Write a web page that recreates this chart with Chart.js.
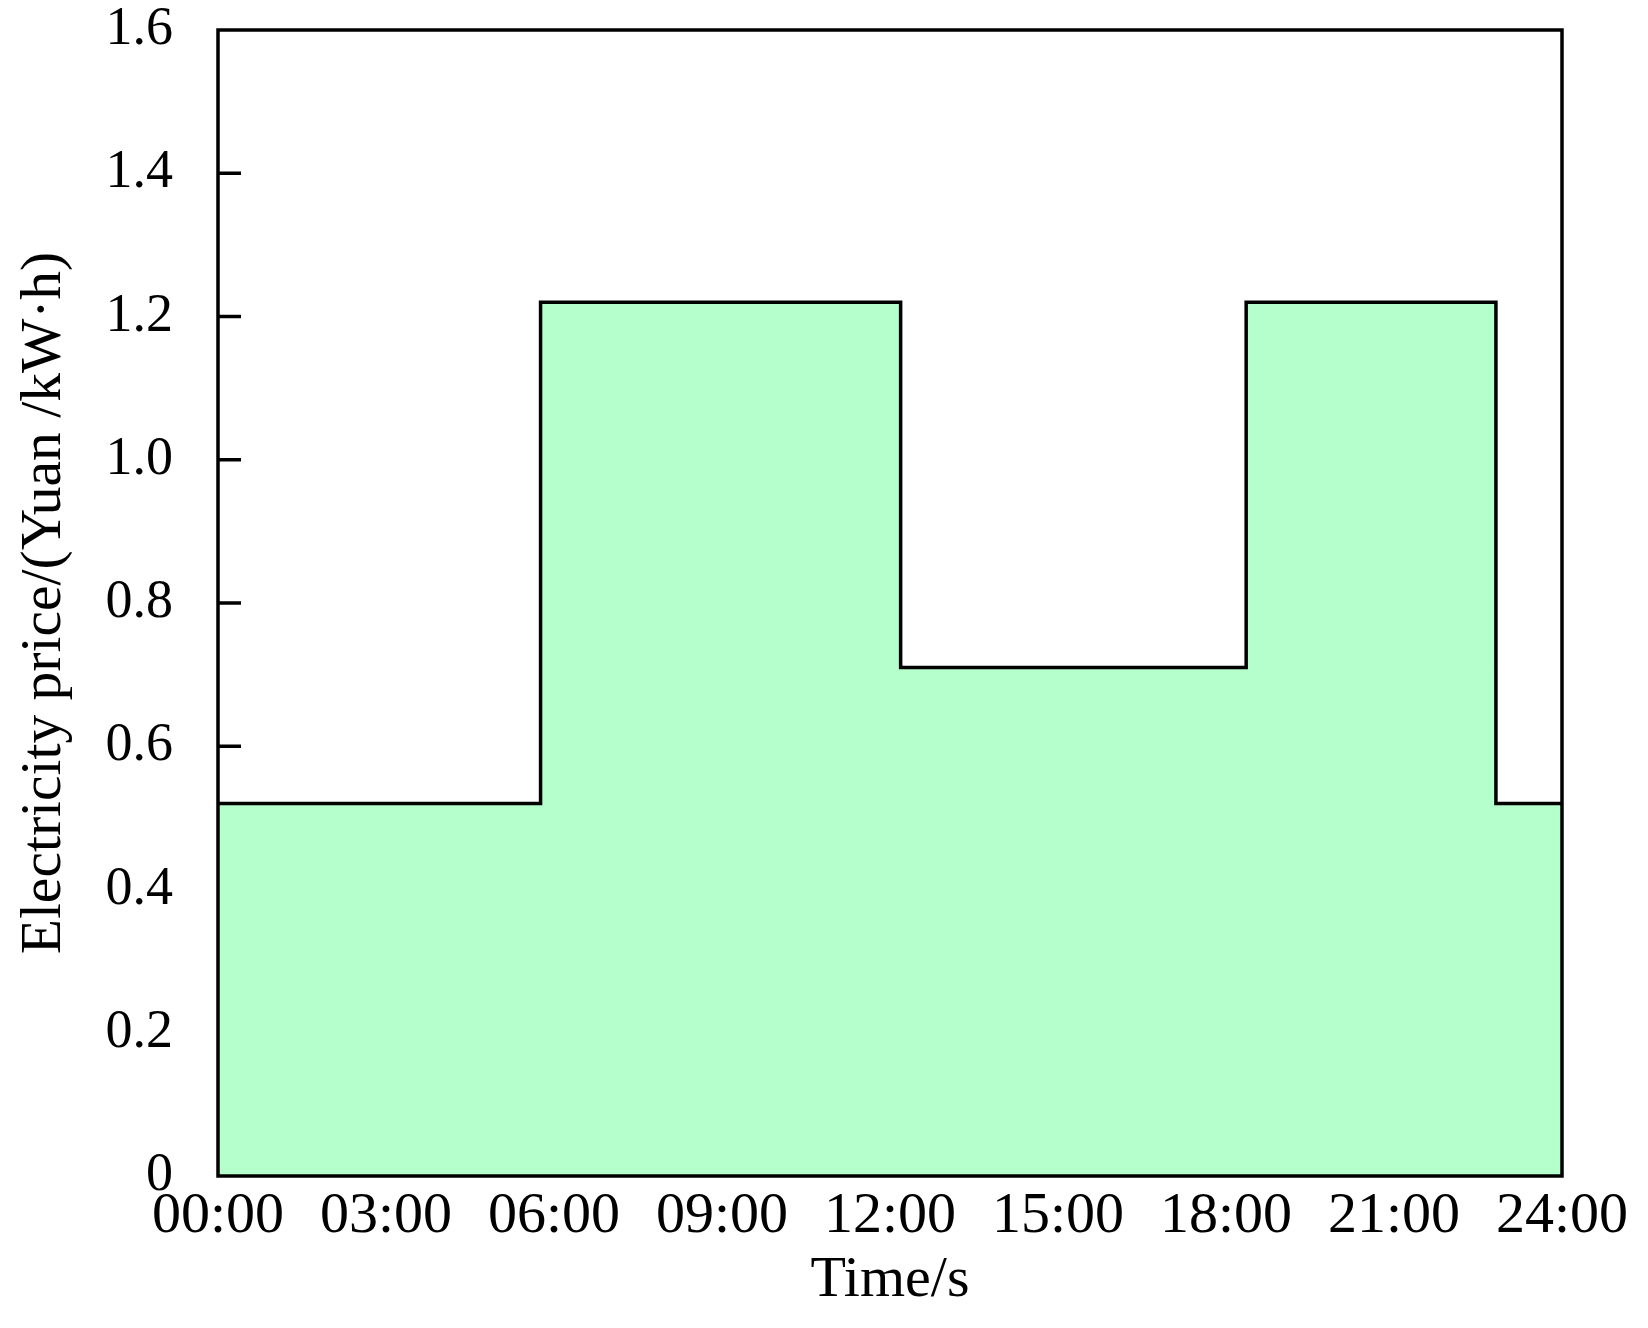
<!DOCTYPE html>
<html>
<head>
<meta charset="utf-8">
<script src="https://cdn.jsdelivr.net/npm/chart.js@4"></script>
<style>
  html, body { margin: 0; padding: 0; background: #fff; }
  #wrap { width: 1648px; height: 1328px; }
</style>
</head>
<body>
<div id="wrap"><canvas id="priceChart" width="1648" height="1328"></canvas></div>
<script>
// step breakpoints (hour of day) and the price that starts there
const hours = [0, 5.76, 12.19, 18.36, 22.82, 24];
const prices = [0.52, 1.22, 0.71, 1.22, 0.52, 0.52];
const xTickLabels = ['00:00', '03:00', '06:00', '09:00', '12:00', '15:00', '18:00', '21:00', '24:00'];
const yTickValues = [0, 0.2, 0.4, 0.6, 0.8, 1.0, 1.2, 1.4, 1.6];
const yTickMarks = [0.6, 0.8, 1.0, 1.2, 1.4];

const serif = "'Liberation Serif', 'Times New Roman', serif";

// frame around the plot + small inward ticks on the left side
const framePlugin = {
    id: 'frame',
    afterDatasetsDraw(chart) {
        const { ctx, chartArea: a, scales } = chart;
        ctx.save();
        ctx.strokeStyle = '#000';
        ctx.lineWidth = 3.5;
        ctx.strokeRect(a.left, a.top, a.right - a.left, a.bottom - a.top);
        yTickMarks.forEach(v => {
            const y = scales.y.getPixelForValue(v);
            ctx.beginPath();
            ctx.moveTo(a.left, y);
            ctx.lineTo(a.left + 23, y);
            ctx.stroke();
        });
        ctx.restore();
    }
};

new Chart(document.getElementById('priceChart'), {
    type: 'line',
    data: {
        datasets: [{
            label: 'price',
            data: hours.map((h, i) => ({ x: h, y: prices[i] })),
            stepped: 'before',
            borderColor: '#000',
            borderWidth: 3.5,
            backgroundColor: '#b4ffcb',
            fill: 'origin',
            pointRadius: 0
        }]
    },
    options: {
        responsive: false,
        animation: false,
        layout: { padding: { left: 10, right: 86, top: 30, bottom: 10 } },
        plugins: {
            legend: { display: false },
            tooltip: { enabled: false }
        },
        scales: {
            x: {
                type: 'linear',
                min: 0,
                max: 24,
                grid: { display: false, drawTicks: false },
                border: { display: false },
                afterBuildTicks: s => { s.ticks = xTickLabels.map((t, i) => ({ value: i * 3 })); },
                afterFit: s => { s.height = 142; s.paddingLeft = 0; s.paddingRight = 0; },
                ticks: {
                    autoSkip: false,
                    maxRotation: 0,
                    padding: 6,
                    color: '#000',
                    font: { family: serif, size: 58 },
                    callback: (v, i) => xTickLabels[i]
                },
                title: {
                    display: true,
                    text: 'Time/s',
                    color: '#000',
                    padding: { top: 0, bottom: 2 },
                    font: { family: serif, size: 58 }
                }
            },
            y: {
                type: 'linear',
                min: 0,
                max: 1.6,
                grid: { display: false, drawTicks: false },
                border: { display: false },
                afterBuildTicks: s => { s.ticks = yTickValues.map(v => ({ value: v })); },
                afterFit: s => { s.width = 208; s.paddingTop = 0; s.paddingBottom = 0; },
                ticks: {
                    padding: 45,
                    color: '#000',
                    font: { family: serif, size: 54 },
                    callback: v => (v === 0 ? '0' : v.toFixed(1))
                },
                title: {
                    display: true,
                    text: 'Electricity price/(Yuan /kW·h)',
                    color: '#000',
                    padding: 0,
                    font: { family: serif, size: 57.5 }
                }
            }
        }
    },
    plugins: [framePlugin]
});
</script>
</body>
</html>
